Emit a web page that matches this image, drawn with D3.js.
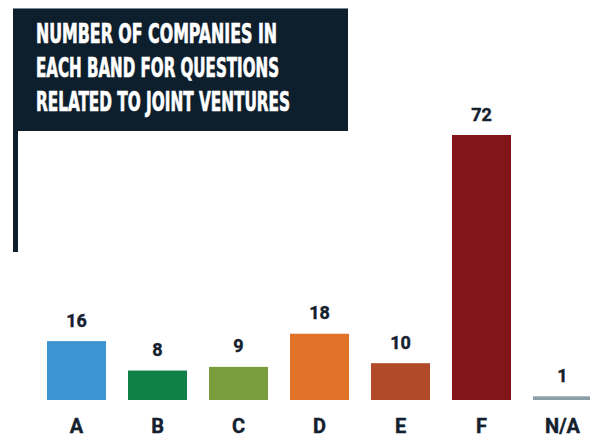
<!DOCTYPE html>
<html>
<head>
<meta charset="utf-8">
<script src="https://cdn.jsdelivr.net/npm/d3@7"></script>
<style>
  html, body { margin: 0; padding: 0; background: #ffffff; }
  svg { display: block; }
</style>
</head>
<body>
<svg id="chart" width="590" height="437"></svg>
<script>
// Bands and the number of companies that fell into each
const categories = ["A", "B", "C", "D", "E", "F", "N/A"];
const counts = [16, 8, 9, 18, 10, 72, 1];
const barColors = ["#3d94d1", "#0e8048", "#799c3d", "#e07328", "#b04a28", "#82151a", "#8c9ea6"];
const titleLines = [
  "NUMBER OF COMPANIES IN",
  "EACH BAND FOR QUESTIONS",
  "RELATED TO JOINT VENTURES"
];

const navy = "#0d1e2c";
const svg = d3.select("#chart");

// Title panel with its flag-pole rule running down the left side
svg.append("rect")
  .attr("x", 13).attr("y", 8)
  .attr("width", 335).attr("height", 123)
  .attr("fill", navy);
svg.append("line")
  .attr("x1", 13).attr("x2", 348)
  .attr("y1", 8.5).attr("y2", 8.5)
  .attr("stroke", "#7d8792").attr("stroke-width", 1);
svg.append("rect")
  .attr("x", 13).attr("y", 131)
  .attr("width", 5).attr("height", 121)
  .attr("fill", navy);

const titleWidths = [241, 243, 254];
const titleFont = "'Liberation Sans Narrow', 'DejaVu Sans Condensed', 'Roboto', sans-serif";
svg.append("g")
  .selectAll("text")
  .data(titleLines)
  .join("text")
  .attr("x", 36)
  .attr("y", (d, i) => 43 + i * 34)
  .attr("textLength", (d, i) => titleWidths[i])
  .attr("lengthAdjust", "spacingAndGlyphs")
  .attr("fill", "#ffffff")
  .attr("stroke", "#ffffff")
  .attr("stroke-width", 0.7)
  .attr("font-family", titleFont)
  .attr("font-weight", "bold")
  .attr("font-size", 26)
  .text(d => d);

// Scales
const pInner = 22 / 81;
const x = d3.scaleBand()
  .domain(categories)
  .range([47, 47 + 81 * (categories.length - pInner)])
  .paddingInner(pInner)
  .paddingOuter(0);

const y = d3.scaleLinear()
  .domain([0, 72])
  .range([400, 135]);

const data = categories.map((c, i) => ({ cat: c, value: counts[i], color: barColors[i] }));

// Bars
svg.append("g")
  .selectAll("rect")
  .data(data)
  .join("rect")
  .attr("x", d => x(d.cat))
  .attr("y", d => y(d.value))
  .attr("width", x.bandwidth())
  .attr("height", d => y(0) - y(d.value))
  .attr("fill", d => d.color);

// Value labels above each bar
svg.append("g")
  .selectAll("text")
  .data(data)
  .join("text")
  .attr("x", d => x(d.cat) + x.bandwidth() / 2)
  .attr("y", d => y(d.value) - 14.5)
  .attr("text-anchor", "middle")
  .attr("fill", "#14202e")
  .attr("stroke", "#14202e")
  .attr("stroke-width", 0.4)
  .attr("font-family", "Roboto, 'Liberation Sans', sans-serif")
  .attr("font-weight", "bold")
  .attr("font-size", 18)
  .text(d => d.value);

// Category axis labels
const xAxis = d3.axisBottom(x).tickSize(0).tickPadding(0);
const axisG = svg.append("g")
  .attr("transform", "translate(0,400)")
  .call(xAxis);
axisG.select(".domain").remove();
axisG.selectAll("text")
  .attr("dy", null)
  .attr("y", 33)
  .attr("fill", "#14202e")
  .attr("stroke", "#14202e")
  .attr("stroke-width", 0.4)
  .attr("font-family", "Roboto, 'Liberation Sans', sans-serif")
  .attr("font-weight", "bold")
  .attr("font-size", 20);
</script>
</body>
</html>
